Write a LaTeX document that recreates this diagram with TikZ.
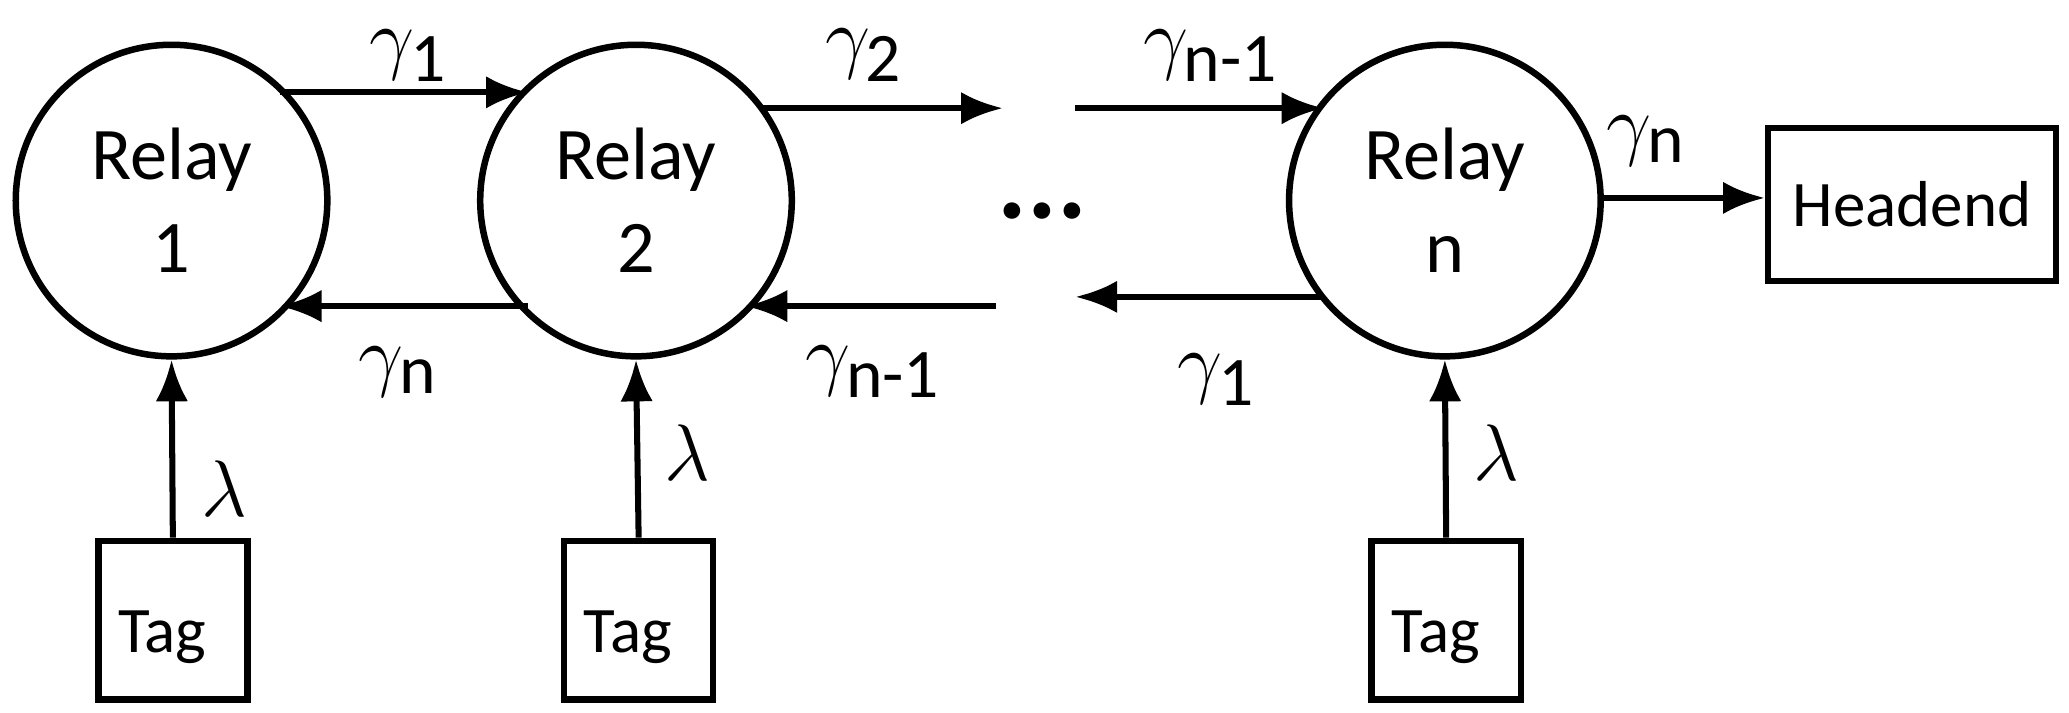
\documentclass[tikz,border=0pt]{standalone}
\usepackage{fontspec}
\setmainfont{Carlito}
\usetikzlibrary{arrows.meta}
\begin{document}
\begin{tikzpicture}[x=0.01cm,y=-0.01cm,
  relay/.style={draw,circle,line width=1.4pt,minimum size=2.36cm,inner sep=0,align=center,font=\fontsize{16}{20}\selectfont},
  box/.style={draw,line width=1.4pt,inner sep=0,font=\fontsize{14}{17}\selectfont},
  arr/.style={line width=1.3pt,-{Latex[length=9pt,width=7pt]}},
  lab/.style={font=\fontsize{17}{20}\selectfont}]
\useasboundingbox (0,0) rectangle (1568,540);
\node[relay] (r1) at (130,152) {Relay\\1};
\node[relay] (r2) at (482,152) {Relay\\2};
\node[relay] (rn) at (1095,152) {Relay\\n};
\node[box,minimum width=2.18cm,minimum height=1.16cm] (h) at (1449,155) {Headend};
\node[box,minimum width=1.13cm,minimum height=1.2cm] (t1) at (131,470) {};
\node[box,minimum width=1.13cm,minimum height=1.2cm] (t2) at (484,470) {};
\node[box,minimum width=1.13cm,minimum height=1.2cm] (tn) at (1096,470) {};
\node[font=\fontsize{14}{17}\selectfont] at (123,483) {Tag};
\node[font=\fontsize{14}{17}\selectfont] at (476,483) {Tag};
\node[font=\fontsize{14}{17}\selectfont] at (1088,483) {Tag};
\coordinate (a1) at (760,82); \coordinate (a2) at (755,232);
\coordinate (b1) at (815,82); \coordinate (b2) at (815,225);
\coordinate (c1) at (212,70); \coordinate (c2) at (400,70);
\coordinate (d1) at (400,232); \coordinate (d2) at (212,232);
\coordinate (e1) at (577,82); \coordinate (e2) at (565,232);
\coordinate (f1) at (1003,82); \coordinate (f2) at (1003,225);
\draw[arr] (c1) -- (c2);
\draw[arr] (d1) -- (d2);
\draw[arr] (e1) -- (a1);
\draw[arr] (a2) -- (e2);
\draw[arr] (b1) -- (f1);
\draw[arr] (f2) -- (b2);
\draw[arr] (rn.east |- 0,150) -- (h.west |- 0,150);
\draw[arr] (t1.north) -- (r1.south);
\draw[arr] (t2.north) -- (r2.south);
\draw[arr] (tn.north) -- (rn.south);
\node[lab] at (310,42) {$\gamma_{\mbox{\fontsize{15}{18}\selectfont 1}}$};
\node[lab] at (302,282) {$\gamma_{\mbox{\fontsize{15}{18}\selectfont n}}$};
\node[lab] at (655,42) {$\gamma_{\mbox{\fontsize{15}{18}\selectfont 2}}$};
\node[lab] at (662,282) {$\gamma_{\mbox{\fontsize{15}{18}\selectfont n-1}}$};
\node[lab] at (918,42) {$\gamma_{\mbox{\fontsize{15}{18}\selectfont n-1}}$};
\node[lab] at (922,288) {$\gamma_{\mbox{\fontsize{15}{18}\selectfont 1}}$};
\node[lab] at (1248,107) {$\gamma_{\mbox{\fontsize{15}{18}\selectfont n}}$};
\node[lab] at (170,370) {$\lambda$};
\node[lab] at (521,343) {$\lambda$};
\node[lab] at (1134,343) {$\lambda$};
\node[font=\fontsize{24}{28}\selectfont\bfseries] at (790,160) {...};
\end{tikzpicture}
\end{document}
